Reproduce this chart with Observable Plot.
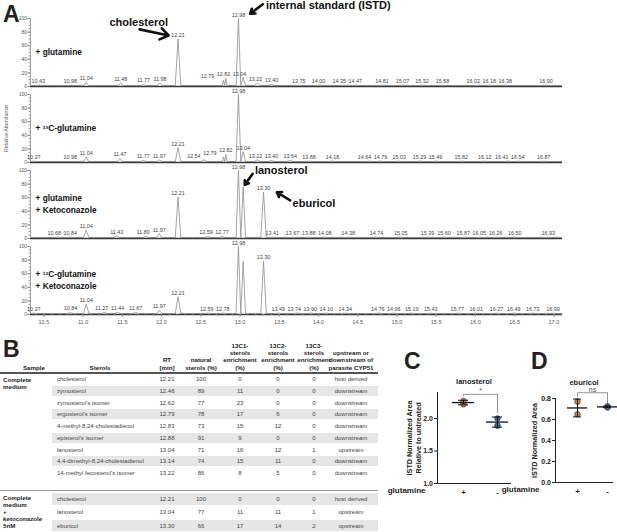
<!DOCTYPE html>
<html><head><meta charset="utf-8">
<script src="https://cdn.jsdelivr.net/npm/d3@7"></script>
<script src="https://cdn.jsdelivr.net/npm/@observablehq/plot@0.6"></script>
<style>
body{margin:0;background:#fff;}
#root{position:relative;width:617px;height:532px;overflow:hidden;font-family:"Liberation Sans",Arial,Helvetica,sans-serif;color:#222;}
.abs{position:absolute;white-space:nowrap;}
.letter{font-weight:bold;font-size:23px;line-height:1;}
.cell{font-size:6px;color:#444;line-height:1;}
.hdr{font-size:6.2px;font-weight:bold;color:#222;line-height:7.3px;text-align:center;}
</style></head><body><div id="root"></div>
<script>
// ---------------- DATA ----------------
// Panel A chromatograms: labelled peak retention times (min) and relative abundance (%)
const panelKeys = ["p1", "p2", "p3", "p4"];
const panelNames = ["+ glutamine", "+ \u00b9\u00b3C-glutamine", "+ glutamine\n+ Ketoconazole", "+ \u00b9\u00b3C-glutamine\n+ Ketoconazole"];

const rtP1 = [10.43,10.98,11.04,11.48,11.77,11.98,12.21,12.79,12.82,12.98,13.04,13.22,13.40,13.75,14.00,14.35,14.47,14.81,15.07,15.32,15.58,16.02,16.18,16.38,16.90];
const abP1 = [2,2,6,5,3,5,70,9,12,100,13,5,3,2,2,2,2,2,2,2,2,2,2,2,2];

const rtP2 = [10.37,10.98,11.04,11.47,11.77,11.97,12.21,12.54,12.79,12.82,12.98,13.04,13.22,13.40,13.64,13.88,14.18,14.64,14.79,15.03,15.29,15.49,15.82,16.12,16.41,16.54,16.87];
const abP2 = [2,2,8,6,3,4,22,4,8,12,100,16,4,3,3,2,2,2,2,2,2,2,2,2,2,2,2];

const rtP3 = [10.68,10.84,11.04,11.43,11.80,11.97,12.21,12.59,12.77,12.98,13.30,13.41,13.67,13.88,14.08,14.38,14.74,15.05,15.39,15.60,15.87,16.05,16.26,16.50,16.93];
const abP3 = [2,2,12,4,3,7,61,3,3,100,68,2,2,2,2,2,2,2,2,2,2,2,2,2,2];

const rtP4 = [10.37,10.84,11.04,11.27,11.44,11.67,11.97,12.21,12.59,12.78,12.98,13.30,13.49,13.74,13.90,14.10,14.34,14.76,14.96,15.19,15.43,15.77,16.01,16.27,16.49,16.73,16.99];
const abP4 = [2,3,15,3,3,3,6,26,2,2,100,78,2,2,2,2,2,2,2,2,2,2,2,2,2,2,2];

// unlabelled peaks (lanosterol shoulder of ISTD)
const rtHidden = [[], [], [13.04], [13.04]];
const abHidden = [[], [], [76], [78]];

const xTicks = [10.5,11.0,11.5,12.0,12.5,13.0,13.5,14.0,14.5,15.0,15.5,16.0,16.5,17.0];
const yTicksA = [0,20,40,60,80,100];

// Panel B table
const tabSterols1 = ["cholesterol","zymosterol","zymosterol's isomer","ergosterol's isomer","4-methyl-8,24-cholestadienol","episterol's isomer","lanosterol","4,4-dimethyl-8,24-cholestadienol","14-methyl fecosterol's isomer"];
const tabRT1 = ["12.21","12.46","12.62","12.79","12.83","12.88","13.04","13.14","13.22"];
const tabNat1 = [100,89,77,78,73,91,71,74,86];
const tabC1_1 = [0,11,23,17,15,9,16,15,8];
const tabC2_1 = [0,0,0,6,12,0,12,11,5];
const tabC3_1 = [0,0,0,0,0,0,1,0,0];
const tabCyp1 = ["host derived","downstream","downstream","downstream","downstream","downstream","upstream","downstream","downstream"];

const tabSterols2 = ["cholesterol","lanosterol","eburicol"];
const tabRT2 = ["12.21","13.04","13.30"];
const tabNat2 = [100,77,66];
const tabC1_2 = [0,11,17];
const tabC2_2 = [0,11,14];
const tabC3_2 = [0,1,2];
const tabCyp2 = ["host derived","upstream","upstream"];

const tabHeaders = ["Sample","Sterols","RT\n[min]","natural\nsterols (%)","13C1-\nsterols\nenrichment\n(%)","13C2-\nsterols\nenrichment\n(%)","13C3-\nsterols\nenrichment\n(%)","upstream or\ndownstream of\nparasite CYP51"];
const tabSamples = ["Complete\nmedium", "Complete\nmedium\n+\nketoconazole\n5nM"];

// Panels C / D
const groups = ["+", "-"];
const lanoPlus = [2.22, 2.27];
const lanoMinus = [2.00, 1.89];
const eburPlus = [0.77, 0.65];
const eburMinus = [0.725, 0.715];

// ---------------- LAYOUT ----------------
const FONT = "'Liberation Sans', Arial, Helvetica, sans-serif";
const root = document.getElementById("root");
function place(el, left, top) {
  const d = document.createElement("div");
  d.className = "abs"; d.style.left = left + "px"; d.style.top = top + "px";
  d.appendChild(el); root.appendChild(d); return d;
}
function label(text, cls, left, top, extra) {
  const d = document.createElement("div");
  d.className = "abs " + cls; d.style.left = left + "px"; d.style.top = top + "px";
  d.textContent = text; if (extra) Object.assign(d.style, extra);
  root.appendChild(d); return d;
}

// ---------------- PANEL A ----------------
const X0 = 10.33, X1 = 17.11;
const xPix = d3.scaleLinear([X0, X1], [30, 562]);
const rtAll = [rtP1, rtP2, rtP3, rtP4];
const abAll = [abP1, abP2, abP3, abP4];
const BASE = 1.5;

const traces = [];
const peakLabels = [];
panelKeys.forEach((key, k) => {
  const peaks = rtAll[k].map((r, i) => ({rt: r, h: abAll[k][i]}))
    .concat(rtHidden[k].map((r, i) => ({rt: r, h: abHidden[k][i]})))
    .sort((a, b) => a.rt - b.rt);
  traces.push({panel: key, rt: X0 + 0.01, v: BASE});
  peaks.forEach((p, i) => {
    let w = 0.035;
    if (i > 0) w = Math.min(w, (p.rt - peaks[i - 1].rt) / 2);
    if (i < peaks.length - 1) w = Math.min(w, (peaks[i + 1].rt - p.rt) / 2);
    traces.push({panel: key, rt: p.rt - w, v: BASE}, {panel: key, rt: p.rt, v: Math.max(p.h, BASE)}, {panel: key, rt: p.rt + w, v: BASE});
  });
  traces.push({panel: key, rt: X1 - 0.01, v: BASE});
  const items = rtAll[k].map((r, i) => ({panel: key, rt: r, h: abAll[k][i], text: r.toFixed(2), px: xPix(r)}));
  const placed = [];
  items.slice().sort((a, b) => b.rt - a.rt).forEach(it => {
    placed.forEach(p => { if (Math.abs(p.h - it.h) < 12) it.px = Math.min(it.px, p.px - 16); });
    placed.push(it);
  });
  items.forEach(it => { it.lx = xPix.invert(it.px); peakLabels.push(it); });
});

// annotations relative to their peaks
const annot = [
  {panel: "p1", rt: 12.21, h: abP1[6], text: "cholesterol", tx: -0.50, ty: 24, anchor: "middle", ax1: -0.49, ay1: 14, ax2: -0.12, ay2: 5},
  {panel: "p1", rt: 12.98, h: abP1[9], text: "internal standard (ISTD)", tx: 0.35, ty: 19, anchor: "start", ax1: 0.31, ay1: 21, ax2: 0.15, ay2: 7},
  {panel: "p3", rt: 13.04, h: abHidden[2][0], text: "lanosterol", tx: 0.15, ty: 24, anchor: "start", ax1: 0.12, ay1: 19, ax2: 0.02, ay2: 3},
  {panel: "p3", rt: 13.30, h: abP3[10], text: "eburicol", tx: 0.37, ty: -16, anchor: "start", ax1: 0.34, ay1: -12, ax2: 0.17, ay2: 0}
];
const annotText = annot.map(a => ({panel: a.panel, x: a.rt + a.tx, y: a.h + a.ty, text: a.text, anchor: a.anchor}));
const annotArrows = annot.map(a => ({panel: a.panel, x1: a.rt + a.ax1, y1: a.h + a.ay1, x2: a.rt + a.ax2, y2: a.h + a.ay2}));

const panelRows = panelKeys.map((k, i) => ({panel: k, text: panelNames[i]}));
const minorX = d3.range(104, 172).map(d => d / 10);
const minorY = d3.range(0, 101, 5);
const annotStyle = {x: "x", y: "y", fy: "panel", text: "text", fontWeight: "bold", fontSize: 11, fill: "#111"};

const chrom = Plot.plot({
  width: 617, height: 335,
  marginLeft: 30, marginRight: 55, marginTop: 18, marginBottom: 21,
  style: {fontFamily: FONT, background: "transparent", overflow: "visible"},
  x: {domain: [X0, X1]},
  y: {domain: [0, 100]},
  fy: {domain: panelKeys, paddingInner: 8 / 76, paddingOuter: 0, axis: null, label: null},
  marks: [
    Plot.line(traces, {x: "rt", y: "v", fy: "panel", stroke: "#8e8e8e", strokeWidth: 0.8}),
    Plot.ruleY([0], {stroke: "#3a3a3a", strokeWidth: 1.3}),
    Plot.ruleX([X0], {y1: 0, y2: 100, stroke: "#777", strokeWidth: 0.7}),
    Plot.axisY({ticks: yTicksA, tickSize: 2.5, tickPadding: 1, fontSize: 5, fill: "#555", stroke: "#777", label: null}),
    Plot.axisY({ticks: minorY, tickSize: 1.3, tickFormat: () => "", stroke: "#999", label: null}),
    Plot.axisX({ticks: xTicks, tickFormat: d => d.toFixed(1), tickSize: 2.5, tickPadding: 3, fontSize: 5.5, fill: "#555", stroke: "#777", label: null}),
    Plot.axisX({ticks: minorX, tickSize: 1.5, tickFormat: () => "", stroke: "#999", label: null}),
    Plot.text(peakLabels, {x: "lx", y: "h", fy: "panel", text: "text", dy: -2, lineAnchor: "bottom", fontSize: 5.4, fill: "#444"}),
    Plot.text(panelRows, {fy: "panel", text: "text", frameAnchor: "left", dx: 5, dy: -1, textAnchor: "start", fontWeight: "bold", fontSize: 8.3, lineHeight: 1.35, fill: "#111"}),
    Plot.text([{panel: "p2"}], {fy: "panel", text: () => "Relative Abundance", frameAnchor: "left", dx: -24, rotate: -90, textAnchor: "middle", fontSize: 5.3, fill: "#555"}),
    Plot.text(annotText.filter(d => d.anchor === "middle"), {...annotStyle, textAnchor: "middle"}),
    Plot.text(annotText.filter(d => d.anchor === "start"), {...annotStyle, textAnchor: "start"}),
    Plot.arrow(annotArrows, {x1: "x1", y1: "y1", x2: "x2", y2: "y2", fy: "panel", stroke: "#111", strokeWidth: 2.6, headLength: 7, headAngle: 70})
  ]
});
place(chrom, 0, 0);
label("A", "letter", 3, 3);

// ---------------- PANEL B (table) ----------------
label("B", "letter", 3, 338);
const colCenters = [34, 100, 167, 201, 240, 278, 314, 351];
const TAB_R = 378, SHADE_L = 52, NAME_L = 57;
const HDR_BOTTOM = 371;
tabHeaders.forEach((h, i) => {
  const lines = h.split("\n");
  const d = label("", "hdr", colCenters[i], HDR_BOTTOM - lines.length * 7.3, {transform: "translateX(-50%)"});
  d.innerHTML = lines.join("<br>");
});
const hline = (top, color, hgt) => label("", "", 0, top, {width: TAB_R + "px", height: hgt + "px", background: color});
hline(372, "#555", 1.8);

function section(top, step, names, rts, nat, c1, c2, c3, cyp, shadeOdd, sample) {
  names.forEach((n, i) => {
    const y = top + i * step;
    const shaded = shadeOdd ? i % 2 === 1 : i % 2 === 0;
    if (shaded) label("", "", SHADE_L, y + 0.8, {width: (TAB_R - SHADE_L) + "px", height: (step - 1.6) + "px", background: "#e6e6e6"});
    const mid = y + step / 2 - 3;
    label(n, "cell", NAME_L, mid);
    [rts[i], nat[i], c1[i], c2[i], c3[i], cyp[i]].forEach((v, j) => {
      label(String(v), "cell", colCenters[j + 2], mid, {transform: "translateX(-50%)"});
    });
  });
  const s = label("", "hdr", 3, top + 2, {textAlign: "left", lineHeight: "7px"});
  s.innerHTML = sample.split("\n").join("<br>");
}
section(373.5, 11.7, tabSterols1, tabRT1, tabNat1, tabC1_1, tabC2_1, tabC3_1, tabCyp1, true, tabSamples[0]);
hline(489.5, "#999", 1.8);
section(492, 13.4, tabSterols2, tabRT2, tabNat2, tabC1_2, tabC2_2, tabC3_2, tabCyp2, false, tabSamples[1]);

// ---------------- PANELS C & D ----------------
const ORANGE = "#e08a3c", BLUE = "#2c78ad";
function stats(vals) {
  const m = d3.mean(vals), s = d3.deviation(vals);
  return {mean: m, lo: m - s, hi: m + s};
}
function dotPanel(cfg) {
  const pts = [];
  cfg.plus.forEach(v => pts.push({g: "+", v}));
  cfg.minus.forEach(v => pts.push({g: "-", v}));
  const summ = [Object.assign({g: "+"}, stats(cfg.plus)), Object.assign({g: "-"}, stats(cfg.minus))];
  const span = cfg.yDomain[1] - cfg.yDomain[0];
  const top = d3.max(summ, d => d.hi) + cfg.brTop * span;
  const bracket = [
    {g: "+", v: Math.min(top - 0.015 * span, summ[0].hi + cfg.legPad * span)},
    {g: "+", v: top}, {g: "-", v: top},
    {g: "-", v: Math.min(top - 0.015 * span, summ[1].hi + cfg.legPad * span)}
  ];
  return Plot.plot({
    width: cfg.width, height: cfg.height,
    marginLeft: cfg.mL, marginRight: cfg.mR, marginTop: cfg.mT, marginBottom: cfg.mB,
    style: {fontFamily: FONT, background: "transparent", overflow: "visible"},
    x: {type: "band", domain: groups, range: cfg.xRange, paddingInner: cfg.padInner, paddingOuter: 0},
    y: {domain: cfg.yDomain},
    color: {domain: groups, range: [ORANGE, BLUE]},
    marks: [
      Plot.frame({anchor: "left", stroke: "#222", strokeWidth: 1}),
      Plot.frame({anchor: "bottom", stroke: "#222", strokeWidth: 1}),
      Plot.axisY({ticks: cfg.yTicks, tickFormat: d3.format(".1f"), tickSize: 3, tickPadding: 1.5, fontSize: 7, fontWeight: "bold", fill: "#222", label: null}),
      Plot.axisX({tickSize: 0, tickPadding: 6, fontSize: 8, fontWeight: "bold", fill: "#222", label: null}),
      Plot.line(bracket, {x: "g", y: "v", stroke: "#777", strokeWidth: 0.8}),
      Plot.text([cfg.sig], {x: () => "+", y: () => top, dx: cfg.sigDx, dy: -1, text: d => d, lineAnchor: "bottom", fontSize: 7, fill: "#555"}),
      Plot.dot(pts, {x: "g", y: "v", fill: "g", stroke: "#333", strokeWidth: 0.7, r: 2.8}),
      Plot.ruleX(summ, {x: "g", y1: "lo", y2: "hi", stroke: "#111", strokeWidth: 1}),
      Plot.tickY(summ, {x: "g", y: "mean", stroke: "#111", strokeWidth: 1.3}),
      Plot.tickY(summ, {x: "g", y: "lo", stroke: "#111", strokeWidth: 1, insetLeft: 6, insetRight: 6}),
      Plot.tickY(summ, {x: "g", y: "hi", stroke: "#111", strokeWidth: 1, insetLeft: 6, insetRight: 6}),
      Plot.text([cfg.title], {text: d => d, frameAnchor: "top", dy: cfg.titleDy, fontSize: 7.5, fontWeight: "bold", fill: "#222"}),
      Plot.text([cfg.ylabel], {text: d => d, frameAnchor: "left", dx: cfg.ylabelDx, rotate: -90, textAnchor: "middle", fontSize: 7.2, fontWeight: "bold", lineHeight: 1.25, fill: "#222"}),
      Plot.text(["glutamine"], {text: d => d, frameAnchor: "bottom-left", dx: cfg.glutDx, dy: 9, textAnchor: "end", fontSize: 8, fontWeight: "bold", fill: "#222"})
    ]
  });
}
const plotC = dotPanel({
  plus: lanoPlus, minus: lanoMinus, yDomain: [1, 2.4], yTicks: [1.0, 1.5, 2.0],
  width: 140, height: 132, mL: 57, mR: 10, mT: 22, mB: 19,
  xRange: [72, 128], padInner: 12 / 34, brTop: 0.065, legPad: 0.05, sig: "*", sigDx: 17,
  title: "lanosterol", titleDy: -14, ylabel: "ISTD Normalized Area\nRelative to untreated", ylabelDx: -24, glutDx: -12
});
place(plotC, 380, 370);
label("C", "letter", 404, 350);

const plotD = dotPanel({
  plus: eburPlus, minus: eburMinus, yDomain: [0, 0.8], yTicks: [0, 0.2, 0.4, 0.6, 0.8],
  width: 117, height: 132, mL: 55, mR: 5, mT: 28, mB: 20,
  xRange: [67, 117], padInner: 1 / 3, brTop: 0.075, legPad: 0.03, sig: "ns", sigDx: 15,
  title: "eburicol", titleDy: -19, ylabel: "ISTD Normalized Area", ylabelDx: -21, glutDx: -16
});
place(plotD, 500, 370);
label("D", "letter", 531, 350);
</script></body></html>
